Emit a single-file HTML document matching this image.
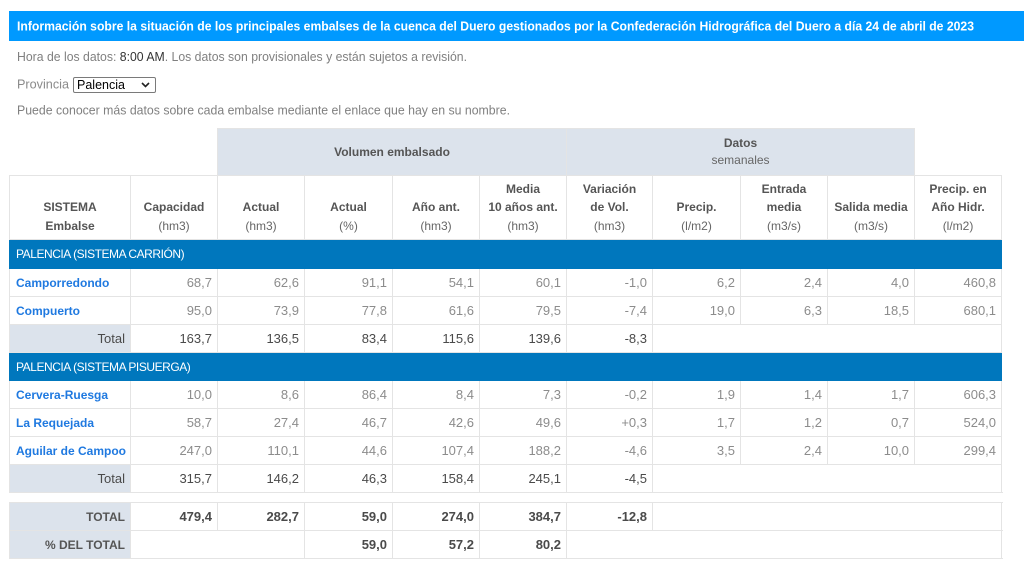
<!DOCTYPE html>
<html><head><meta charset="utf-8">
<style>
*{margin:0;padding:0;box-sizing:border-box}
html,body{width:1024px;height:563px;background:#fff;overflow:hidden;font-family:"Liberation Sans",Arial,sans-serif;position:relative}
svg.top{position:absolute;left:0;top:0}
.sel{position:absolute;left:73px;top:77px;width:83px;height:16px;border:1px solid #7a7a7a;border-radius:2px;background:#fff;font-size:12.5px;color:#000;line-height:14px;padding-left:3px}
.sel svg{position:absolute;right:5px;top:4px}
table{position:absolute;left:9px;border-collapse:collapse;table-layout:fixed;width:992px}
td{border:1px solid #e4e4e4;font-size:13px;color:#8c8c8c;text-align:right;padding:0 5px 0 4px;white-space:nowrap;overflow:hidden;vertical-align:middle}
tr{height:28px}
td.blank{border:none;background:#fff}
td.h1{background:#dce3ec;color:#555;text-align:center;font-size:12px;line-height:17px;padding:0;font-weight:bold}
td.h1 span{font-weight:normal;color:#666}
tr.h2 td{vertical-align:bottom;text-align:center;font-size:12px;line-height:18.5px;padding:0 0 4px 0;color:#666}
tr.h2 td b{color:#555}
td.grp{background:#0077bd;color:#fff;text-align:left;font-size:12px;padding-left:6px;border-color:#0077bd;letter-spacing:-0.45px}
td.nm{text-align:left;font-weight:bold;color:#1f79e0;font-size:12px;padding-left:6px}
td.lab{background:#dce3ec;color:#666;font-size:13px}
tr.tot td{color:#4a4a4a}
tr.TT td{color:#4a4a4a;font-weight:bold}
tr.TT td.lab{color:#555;font-size:12px}
</style></head><body>
<svg class="top" width="1024" height="125" xmlns="http://www.w3.org/2000/svg">
<rect x="9" y="11" width="1015" height="30" fill="#0099ff"/>
<text x="17" y="30.5" font-family="Liberation Sans, Arial, sans-serif" font-size="13" font-weight="bold" fill="#fff" textLength="957" lengthAdjust="spacingAndGlyphs">Información sobre la situación de los principales embalses de la cuenca del Duero gestionados por la Confederación Hidrográfica del Duero a día 24 de abril de 2023</text>
<text x="17" y="61" font-family="Liberation Sans, Arial, sans-serif" font-size="12.5" fill="#808080" textLength="450" lengthAdjust="spacingAndGlyphs">Hora de los datos: <tspan fill="#333">8:00 AM</tspan>. Los datos son provisionales y están sujetos a revisión.</text>
<text x="17" y="88.5" font-family="Liberation Sans, Arial, sans-serif" font-size="12.5" fill="#8a8a8a" textLength="52" lengthAdjust="spacingAndGlyphs">Provincia</text>
<text x="17" y="114.5" font-family="Liberation Sans, Arial, sans-serif" font-size="12.5" fill="#808080" textLength="493" lengthAdjust="spacingAndGlyphs">Puede conocer más datos sobre cada embalse mediante el enlace que hay en su nombre.</text>
</svg>
<div class="sel">Palencia<svg width="9" height="6"><polyline points="1,1 4.5,4.5 8,1" fill="none" stroke="#222" stroke-width="1.6"/></svg></div>

<table style="top:128px">
<colgroup><col style="width:121px"><col style="width:87px"><col style="width:87px"><col style="width:88px"><col style="width:87px"><col style="width:87px"><col style="width:86px"><col style="width:88px"><col style="width:87px"><col style="width:87px"><col style="width:87px"></colgroup>
<tr style="height:47px"><td class="blank" colspan="2"></td><td class="h1" colspan="4">Volumen embalsado</td><td class="h1" colspan="4" style="border-left-color:#eef1f5">Datos<br><span>semanales</span></td><td class="blank"></td></tr>
<tr class="h2" style="height:64px">
<td><b>SISTEMA</b><br><b>Embalse</b></td>
<td><b>Capacidad</b><br>(hm3)</td>
<td><b>Actual</b><br>(hm3)</td>
<td><b>Actual</b><br>(%)</td>
<td><b>Año ant.</b><br>(hm3)</td>
<td><b>Media</b><br><b>10 años ant.</b><br>(hm3)</td>
<td><b>Variación</b><br><b>de Vol.</b><br>(hm3)</td>
<td><b>Precip.</b><br>(l/m2)</td>
<td><b>Entrada</b><br><b>media</b><br>(m3/s)</td>
<td><b>Salida media</b><br>(m3/s)</td>
<td><b>Precip. en</b><br><b>Año Hidr.</b><br>(l/m2)</td>
</tr>
<tr style="height:29px"><td class="grp" colspan="11">PALENCIA (SISTEMA CARRIÓN)</td></tr>
<tr><td class="nm">Camporredondo</td><td>68,7</td><td>62,6</td><td>91,1</td><td>54,1</td><td>60,1</td><td>-1,0</td><td>6,2</td><td>2,4</td><td>4,0</td><td>460,8</td></tr>
<tr><td class="nm">Compuerto</td><td>95,0</td><td>73,9</td><td>77,8</td><td>61,6</td><td>79,5</td><td>-7,4</td><td>19,0</td><td>6,3</td><td>18,5</td><td>680,1</td></tr>
<tr class="tot"><td class="lab">Total</td><td>163,7</td><td>136,5</td><td>83,4</td><td>115,6</td><td>139,6</td><td>-8,3</td><td colspan="5"></td></tr>
<tr><td class="grp" colspan="11">PALENCIA (SISTEMA PISUERGA)</td></tr>
<tr><td class="nm">Cervera-Ruesga</td><td>10,0</td><td>8,6</td><td>86,4</td><td>8,4</td><td>7,3</td><td>-0,2</td><td>1,9</td><td>1,4</td><td>1,7</td><td>606,3</td></tr>
<tr><td class="nm">La Requejada</td><td>58,7</td><td>27,4</td><td>46,7</td><td>42,6</td><td>49,6</td><td>+0,3</td><td>1,7</td><td>1,2</td><td>0,7</td><td>524,0</td></tr>
<tr><td class="nm">Aguilar de Campoo</td><td>247,0</td><td>110,1</td><td>44,6</td><td>107,4</td><td>188,2</td><td>-4,6</td><td>3,5</td><td>2,4</td><td>10,0</td><td>299,4</td></tr>
<tr class="tot"><td class="lab">Total</td><td>315,7</td><td>146,2</td><td>46,3</td><td>158,4</td><td>245,1</td><td>-4,5</td><td colspan="5"></td></tr>
</table>

<table style="top:502px">
<colgroup><col style="width:121px"><col style="width:87px"><col style="width:87px"><col style="width:88px"><col style="width:87px"><col style="width:87px"><col style="width:86px"><col style="width:88px"><col style="width:87px"><col style="width:87px"><col style="width:87px"></colgroup>
<tr class="TT"><td class="lab">TOTAL</td><td>479,4</td><td>282,7</td><td>59,0</td><td>274,0</td><td>384,7</td><td>-12,8</td><td colspan="5"></td></tr>
<tr class="TT"><td class="lab">% DEL TOTAL</td><td colspan="2"></td><td>59,0</td><td>57,2</td><td>80,2</td><td colspan="6"></td></tr>
</table>
</body></html>
